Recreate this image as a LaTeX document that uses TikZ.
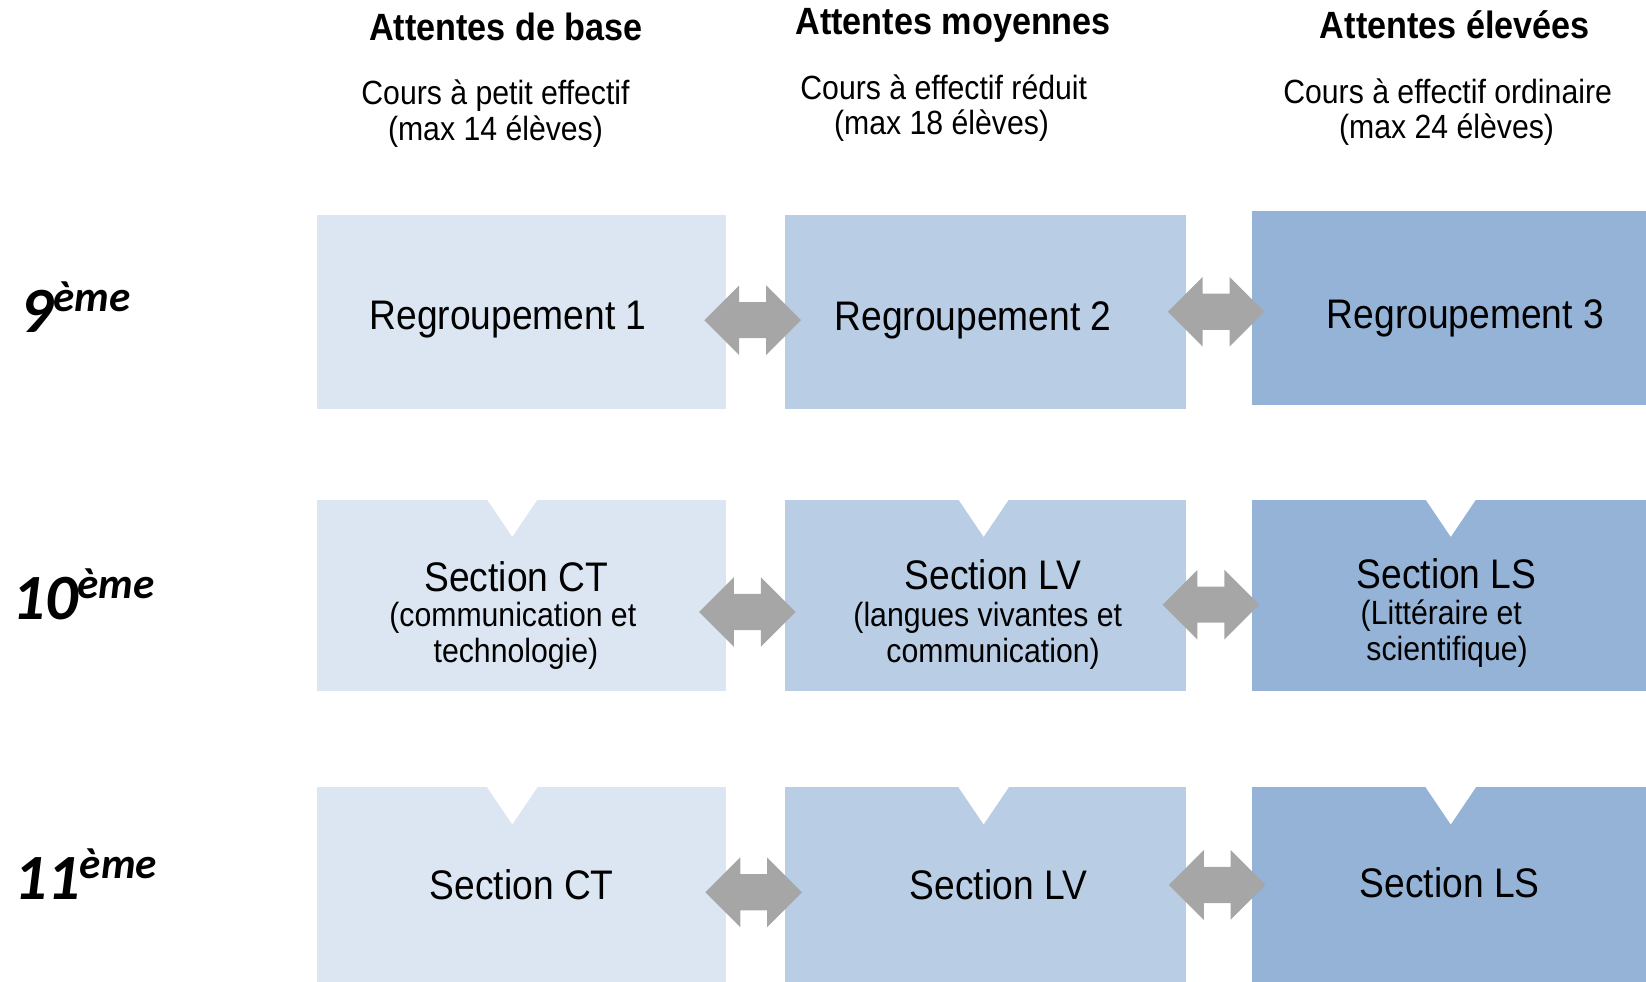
\documentclass[tikz,border=0pt]{standalone}
\usepackage{fontspec}
\setmainfont[FakeStretch=0.9]{Liberation Sans}
\newfontfamily\calib{Carlito}
\usetikzlibrary{shapes.arrows,calc}
\definecolor{bleuA}{HTML}{DCE6F2}
\definecolor{bleuB}{HTML}{B9CDE5}
\definecolor{bleuC}{HTML}{95B3D7}
\definecolor{grisF}{HTML}{A6A6A6}
\tikzset{
	boite/.style={rectangle,inner sep=0pt},
	titre/.style={anchor=base,font=\bfseries\fontsize{10.3}{12}\selectfont},
	sous/.style={anchor=base,font=\fontsize{9.1}{11}\selectfont},
	grand/.style={anchor=base,font=\fontsize{11.2}{13}\selectfont},
	fleche/.style={double arrow,fill=grisF,inner sep=0pt,text height=0.33cm,text depth=0pt,minimum height=0.92cm,double arrow head extend=0.16cm},
	niveau/.style={anchor=base west,inner sep=0pt,font=\calib\bfseries\itshape}
}
\newcommand\niv[2]{{\fontsize{17.5}{17}\selectfont #1}\raisebox{5.7pt}{\fontsize{11.7}{12}\selectfont #2}}
\begin{document}
\begin{tikzpicture}[x=1cm,y=1cm]
	\useasboundingbox (0,0) rectangle (15.68,-9.35);
	\clip (0,0) rectangle (15.68,-9.35);
	% les boites
	\foreach \r/\y/\yc/\h in {1/-2.975/-2.935/1.85,2/-5.67/-5.67/1.82,3/-8.45/-8.45/1.9}{
		\node[boite,fill=bleuA,minimum width=3.90cm,minimum height=\h cm] (b\r1) at (4.97,\y) {};
		\node[boite,fill=bleuB,minimum width=3.82cm,minimum height=\h cm] (b\r2) at (9.39,\y) {};
		\node[boite,fill=bleuC,minimum width=3.80cm,minimum height=\h cm] (b\r3) at (13.83,\yc) {};
	}
	% encoches
	\foreach \r in {2,3}
	\foreach \c/\dx in {1/-0.09,2/-0.02,3/-0.01}
	\fill[white] ($(b\r\c.north)+(\dx-0.25,0.01)$) -- ($(b\r\c.north)+(\dx+0.25,0.01)$) -- ($(b\r\c.north)+(\dx,-0.36)$) -- cycle;
	% fleches
	\foreach \r/\dx/\dya/\dyb in {1/-0.03/-0.075/-0.015,2/-0.08/-0.16/-0.09,3/-0.02/-0.05/0.02}{
		\node[fleche] (f\r a) at ($(b\r1.east)!.5!(b\r2.west)+(\dx,\dya)$) {};
		\node[fleche] (f\r b) at ($(b\r2.east)!.5!(b\r3.west)+(\dx,\dyb)$) {};
	}
	% en-tetes
	\node[titre] (t1) at (4.82,-0.39) {Attentes de base};
	\node[titre] (t2) at (9.08,-0.33) {Attentes moyennes};
	\node[titre] (t3) at (13.86,-0.37) {Attentes élevées};
	\node[sous] (e1a) at (4.72,-1.00) {Cours à petit effectif};
	\node[sous] (e1b) at (4.72,-1.34) {(max 14 élèves)};
	\node[sous] (e2a) at (8.99,-0.95) {Cours à effectif réduit};
	\node[sous] (e2b) at (8.97,-1.28) {(max 18 élèves)};
	\node[sous] (e3a) at (13.79,-0.99) {Cours à effectif ordinaire};
	\node[sous] (e3b) at (13.78,-1.32) {(max 24 élèves)};
	% niveaux
	\node[niveau] (n9) at (0.19,-3.17) {\niv{9}{ème}};
	\node[niveau] (n10) at (0.11,-5.90) {\niv{10}{ème}};
	\node[niveau] (n11) at (0.13,-8.57) {\niv{11}{ème}};
	% textes des boites
	\node[grand] (g11) at (4.84,-3.14) {Regroupement 1};
	\node[grand] (g12) at (9.27,-3.15) {Regroupement 2};
	\node[grand] (g13) at (13.96,-3.13) {Regroupement 3};
	\node[grand] (g21) at (4.92,-5.63) {Section CT};
	\node[sous] (g21a) at (4.885,-5.97) {(communication et};
	\node[sous] (g21b) at (4.915,-6.31) {technologie)};
	\node[grand] (g22) at (9.46,-5.62) {Section LV};
	\node[sous] (g22a) at (9.41,-5.97) {(langues vivantes et};
	\node[sous] (g22b) at (9.46,-6.31) {communication)};
	\node[grand] (g23) at (13.78,-5.61) {Section LS};
	\node[sous] (g23a) at (13.73,-5.95) {(Littéraire et};
	\node[sous] (g23b) at (13.785,-6.29) {scientifique)};
	\node[grand] (g31) at (4.97,-8.57) {Section CT};
	\node[grand] (g32) at (9.51,-8.57) {Section LV};
	\node[grand] (g33) at (13.81,-8.55) {Section LS};
\end{tikzpicture}
\end{document}
